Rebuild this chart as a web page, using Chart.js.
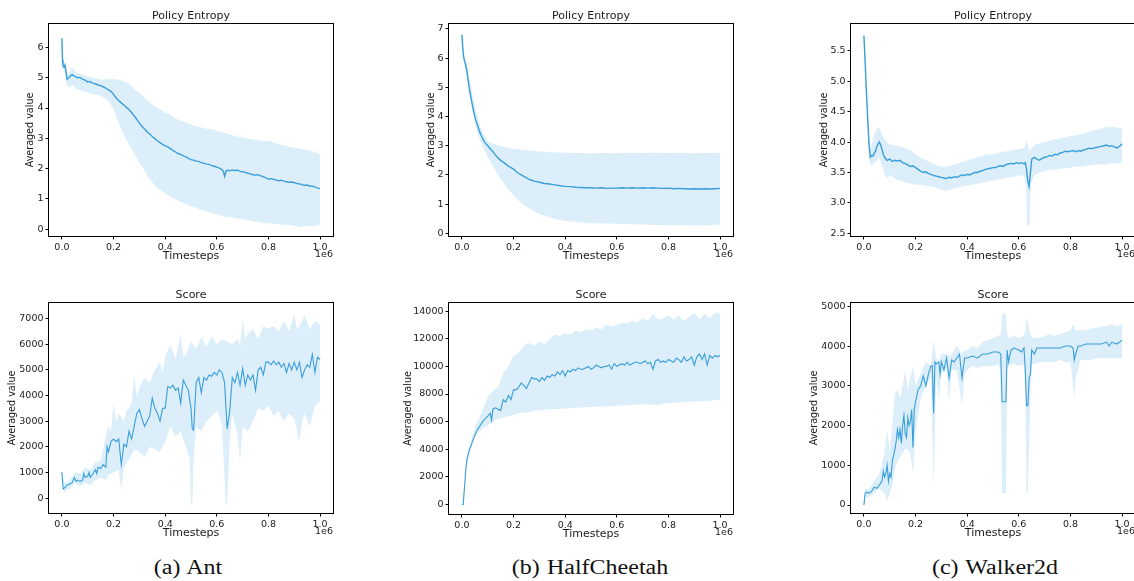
<!DOCTYPE html>
<html>
<head>
<meta charset="utf-8">
<script src="https://cdn.jsdelivr.net/npm/chart.js@4.4.0/dist/chart.umd.min.js"></script>
<style>
html, body { margin: 0; padding: 0; background: #fff; width: 1134px; height: 581px; overflow: hidden; position: relative; }
canvas { position: absolute; }
.caption { position: absolute; top: 555px; width: 300px; text-align: center; font-family: "Liberation Serif", serif; font-size: 20px; line-height: 24px; color: #111; transform: scaleX(1.2); word-spacing: 1px; }
</style>
</head>
<body>
<div class="caption" style="left:38px">(a) Ant</div>
<div class="caption" style="left:440px">(b) HalfCheetah</div>
<div class="caption" style="left:845px">(c) Walker2d</div>
<script>
// timesteps are in units of 1e6, every series is [timestep, value]
var xTicks = [0, 0.2, 0.4, 0.6, 0.8, 1.0];

// ---- Ant : policy entropy
var antEntMean = [[0,6.3],[0.002,5.6],[0.004,5.4],[0.008,5.35],[0.012,5.42],[0.016,5.2],[0.02,4.95],[0.025,4.98],[0.03,5.02],[0.035,5.08],[0.04,5.1],[0.045,5.06],[0.05,5.05],[0.06,5.0],[0.07,5.01],[0.08,4.95],[0.09,4.92],[0.1,4.86],[0.11,4.87],[0.12,4.81],[0.13,4.8],[0.14,4.76],[0.15,4.74],[0.16,4.7],[0.17,4.66],[0.18,4.6],[0.19,4.55],[0.2,4.45],[0.21,4.33],[0.22,4.25],[0.23,4.17],[0.24,4.1],[0.25,4.02],[0.26,3.95],[0.27,3.85],[0.28,3.74],[0.29,3.63],[0.3,3.5],[0.31,3.4],[0.32,3.31],[0.33,3.22],[0.34,3.14],[0.35,3.06],[0.36,2.99],[0.37,2.92],[0.38,2.86],[0.39,2.8],[0.4,2.75],[0.41,2.72],[0.42,2.66],[0.43,2.6],[0.44,2.55],[0.45,2.5],[0.46,2.47],[0.47,2.42],[0.48,2.39],[0.49,2.34],[0.5,2.3],[0.51,2.28],[0.52,2.25],[0.53,2.24],[0.54,2.2],[0.55,2.18],[0.56,2.15],[0.57,2.14],[0.58,2.1],[0.59,2.08],[0.6,2.05],[0.61,2.02],[0.62,1.97],[0.625,1.92],[0.63,1.75],[0.635,1.9],[0.64,1.95],[0.65,1.93],[0.66,1.96],[0.67,1.94],[0.68,1.95],[0.69,1.91],[0.7,1.9],[0.71,1.88],[0.72,1.85],[0.73,1.83],[0.74,1.8],[0.75,1.79],[0.76,1.8],[0.77,1.76],[0.78,1.74],[0.79,1.7],[0.8,1.65],[0.81,1.67],[0.82,1.65],[0.83,1.62],[0.84,1.6],[0.85,1.62],[0.86,1.59],[0.87,1.57],[0.88,1.55],[0.89,1.56],[0.9,1.54],[0.91,1.51],[0.92,1.5],[0.93,1.47],[0.94,1.45],[0.95,1.46],[0.96,1.43],[0.97,1.42],[0.98,1.4],[0.99,1.36],[1.0,1.35]];
var antEntUpper = [[0,6.45],[0.003,5.6],[0.01,5.5],[0.02,5.1],[0.03,5.2],[0.04,5.35],[0.05,5.2],[0.06,5.15],[0.08,5.1],[0.1,5.05],[0.12,5.0],[0.14,4.96],[0.16,4.92],[0.18,4.97],[0.2,4.95],[0.22,4.93],[0.24,4.88],[0.26,4.78],[0.28,4.63],[0.3,4.5],[0.32,4.33],[0.34,4.18],[0.36,4.05],[0.38,3.95],[0.4,3.85],[0.42,3.78],[0.44,3.66],[0.46,3.57],[0.48,3.52],[0.5,3.45],[0.52,3.4],[0.54,3.36],[0.56,3.32],[0.58,3.3],[0.6,3.26],[0.62,3.2],[0.64,3.15],[0.66,3.1],[0.68,3.06],[0.7,3.02],[0.72,3.0],[0.74,2.96],[0.76,2.95],[0.78,2.9],[0.8,2.92],[0.82,2.86],[0.84,2.8],[0.86,2.78],[0.88,2.72],[0.9,2.7],[0.92,2.66],[0.94,2.62],[0.96,2.6],[0.98,2.55],[0.995,2.5],[1.0,2.45]];
var antEntLower = [[0,5.3],[0.003,5.3],[0.01,5.2],[0.02,4.7],[0.03,4.72],[0.04,4.75],[0.06,4.62],[0.08,4.56],[0.1,4.5],[0.12,4.46],[0.14,4.42],[0.16,4.36],[0.18,4.22],[0.19,4.1],[0.2,3.95],[0.21,3.7],[0.22,3.5],[0.24,3.1],[0.26,2.8],[0.28,2.5],[0.3,2.2],[0.32,1.92],[0.34,1.66],[0.36,1.45],[0.38,1.3],[0.4,1.18],[0.42,1.08],[0.44,0.98],[0.46,0.9],[0.48,0.83],[0.5,0.75],[0.52,0.7],[0.54,0.64],[0.56,0.6],[0.58,0.54],[0.6,0.5],[0.62,0.46],[0.63,0.38],[0.64,0.42],[0.66,0.4],[0.68,0.35],[0.7,0.33],[0.72,0.3],[0.74,0.27],[0.76,0.24],[0.78,0.22],[0.8,0.2],[0.82,0.19],[0.84,0.16],[0.86,0.15],[0.88,0.14],[0.9,0.12],[0.92,0.08],[0.94,0.1],[0.96,0.1],[0.98,0.12],[1.0,0.15]];
var antEntTicks = [0, 1, 2, 3, 4, 5, 6];

// ---- HalfCheetah : policy entropy
var cheetahEntMean = [[0,6.8],[0.003,6.4],[0.006,6.08],[0.01,5.9],[0.015,5.75],[0.02,5.5],[0.025,5.2],[0.03,4.9],[0.035,4.65],[0.04,4.42],[0.045,4.2],[0.05,4.0],[0.055,3.85],[0.06,3.72],[0.065,3.58],[0.07,3.45],[0.075,3.35],[0.08,3.25],[0.09,3.1],[0.1,3.0],[0.11,2.9],[0.12,2.8],[0.13,2.68],[0.14,2.58],[0.15,2.5],[0.16,2.44],[0.17,2.37],[0.18,2.3],[0.19,2.25],[0.2,2.2],[0.21,2.12],[0.22,2.05],[0.23,2.0],[0.24,1.95],[0.25,1.9],[0.26,1.85],[0.27,1.82],[0.28,1.79],[0.29,1.77],[0.3,1.75],[0.32,1.71],[0.34,1.69],[0.36,1.66],[0.38,1.63],[0.4,1.61],[0.42,1.6],[0.44,1.58],[0.46,1.57],[0.48,1.56],[0.5,1.56],[0.52,1.55],[0.54,1.56],[0.56,1.54],[0.58,1.55],[0.6,1.55],[0.62,1.56],[0.64,1.55],[0.66,1.56],[0.68,1.55],[0.7,1.56],[0.72,1.55],[0.74,1.56],[0.76,1.55],[0.78,1.54],[0.8,1.55],[0.82,1.53],[0.84,1.54],[0.86,1.53],[0.88,1.52],[0.9,1.53],[0.92,1.52],[0.94,1.53],[0.96,1.52],[0.98,1.53],[1.0,1.54]];
var cheetahEntUpper = [[0,6.85],[0.005,6.4],[0.01,6.1],[0.02,5.8],[0.03,5.3],[0.04,4.8],[0.05,4.35],[0.06,4.0],[0.07,3.7],[0.08,3.45],[0.09,3.3],[0.1,3.15],[0.12,3.07],[0.14,3.02],[0.16,2.97],[0.18,2.93],[0.2,2.9],[0.22,2.88],[0.25,2.85],[0.3,2.8],[0.35,2.78],[0.4,2.76],[0.45,2.75],[0.5,2.74],[0.55,2.75],[0.6,2.74],[0.65,2.76],[0.7,2.75],[0.75,2.76],[0.8,2.75],[0.85,2.76],[0.9,2.74],[0.95,2.75],[1.0,2.76]];
var cheetahEntLower = [[0,6.7],[0.005,6.0],[0.01,5.8],[0.02,5.3],[0.03,4.7],[0.04,4.2],[0.05,3.8],[0.06,3.45],[0.07,3.2],[0.08,2.98],[0.09,2.8],[0.1,2.62],[0.12,2.3],[0.14,2.0],[0.16,1.75],[0.18,1.5],[0.2,1.3],[0.22,1.12],[0.24,0.98],[0.26,0.86],[0.28,0.75],[0.3,0.66],[0.32,0.6],[0.34,0.55],[0.36,0.5],[0.38,0.46],[0.4,0.43],[0.45,0.38],[0.5,0.35],[0.55,0.34],[0.6,0.33],[0.65,0.31],[0.7,0.3],[0.75,0.29],[0.8,0.28],[0.85,0.28],[0.9,0.27],[0.95,0.28],[1.0,0.3]];
var cheetahEntTicks = [0, 1, 2, 3, 4, 5, 6, 7];

// ---- Walker2d : policy entropy
var walkerEntMean = [[0,5.75],[0.005,5.3],[0.01,4.8],[0.015,4.35],[0.02,3.95],[0.025,3.75],[0.03,3.78],[0.035,3.77],[0.04,3.82],[0.045,3.85],[0.05,3.92],[0.055,3.97],[0.06,4.0],[0.065,3.95],[0.07,3.88],[0.075,3.8],[0.08,3.75],[0.09,3.7],[0.1,3.72],[0.11,3.68],[0.12,3.7],[0.13,3.69],[0.14,3.7],[0.15,3.66],[0.16,3.65],[0.17,3.62],[0.18,3.6],[0.19,3.61],[0.2,3.58],[0.21,3.55],[0.22,3.52],[0.23,3.5],[0.24,3.51],[0.25,3.48],[0.26,3.47],[0.27,3.45],[0.28,3.44],[0.29,3.43],[0.3,3.42],[0.31,3.41],[0.32,3.4],[0.33,3.42],[0.34,3.41],[0.35,3.43],[0.36,3.42],[0.37,3.44],[0.38,3.46],[0.39,3.45],[0.4,3.47],[0.41,3.46],[0.42,3.48],[0.43,3.5],[0.44,3.5],[0.45,3.52],[0.46,3.53],[0.47,3.55],[0.48,3.56],[0.49,3.57],[0.5,3.58],[0.51,3.58],[0.52,3.6],[0.53,3.61],[0.54,3.6],[0.55,3.63],[0.56,3.64],[0.57,3.65],[0.58,3.64],[0.59,3.66],[0.6,3.65],[0.61,3.66],[0.62,3.64],[0.625,3.66],[0.63,3.55],[0.635,3.35],[0.64,3.27],[0.645,3.5],[0.65,3.72],[0.66,3.75],[0.67,3.72],[0.68,3.7],[0.69,3.73],[0.7,3.75],[0.71,3.76],[0.72,3.78],[0.73,3.77],[0.74,3.8],[0.75,3.79],[0.76,3.82],[0.77,3.83],[0.78,3.85],[0.79,3.84],[0.8,3.85],[0.81,3.86],[0.82,3.84],[0.83,3.86],[0.84,3.85],[0.85,3.87],[0.86,3.88],[0.87,3.9],[0.88,3.89],[0.89,3.9],[0.9,3.91],[0.91,3.92],[0.92,3.93],[0.93,3.94],[0.94,3.95],[0.95,3.93],[0.96,3.94],[0.97,3.92],[0.98,3.9],[0.99,3.93],[1.0,3.97]];
var walkerEntUpper = [[0,5.78],[0.005,5.4],[0.01,4.9],[0.015,4.5],[0.02,4.1],[0.025,3.9],[0.03,3.95],[0.04,4.12],[0.05,4.22],[0.06,4.25],[0.07,4.12],[0.08,4.05],[0.09,4.0],[0.1,3.96],[0.12,3.95],[0.14,3.93],[0.16,3.9],[0.18,3.86],[0.2,3.8],[0.22,3.74],[0.24,3.7],[0.26,3.66],[0.28,3.62],[0.3,3.6],[0.32,3.6],[0.34,3.62],[0.36,3.64],[0.38,3.67],[0.4,3.7],[0.42,3.72],[0.44,3.75],[0.46,3.78],[0.48,3.8],[0.5,3.8],[0.52,3.82],[0.54,3.84],[0.56,3.85],[0.58,3.87],[0.6,3.88],[0.62,3.9],[0.63,4.02],[0.64,3.85],[0.65,3.9],[0.66,3.95],[0.68,3.98],[0.7,4.0],[0.72,4.02],[0.74,4.05],[0.76,4.06],[0.78,4.08],[0.8,4.1],[0.82,4.11],[0.84,4.13],[0.86,4.15],[0.88,4.18],[0.9,4.2],[0.92,4.22],[0.94,4.25],[0.96,4.25],[0.98,4.24],[1.0,4.22]];
var walkerEntLower = [[0,5.7],[0.005,5.2],[0.01,4.7],[0.015,4.2],[0.02,3.75],[0.025,3.62],[0.03,3.62],[0.04,3.65],[0.05,3.7],[0.06,3.75],[0.07,3.62],[0.08,3.46],[0.09,3.4],[0.1,3.45],[0.12,3.4],[0.14,3.36],[0.16,3.34],[0.18,3.32],[0.2,3.3],[0.22,3.3],[0.24,3.28],[0.26,3.27],[0.28,3.25],[0.3,3.22],[0.32,3.2],[0.34,3.23],[0.36,3.25],[0.38,3.27],[0.4,3.28],[0.42,3.3],[0.44,3.32],[0.46,3.33],[0.48,3.35],[0.5,3.37],[0.52,3.38],[0.54,3.4],[0.56,3.42],[0.58,3.43],[0.6,3.45],[0.62,3.45],[0.628,3.3],[0.632,2.65],[0.642,2.62],[0.646,3.3],[0.66,3.45],[0.68,3.5],[0.7,3.52],[0.72,3.55],[0.74,3.55],[0.76,3.56],[0.78,3.57],[0.8,3.58],[0.82,3.6],[0.84,3.6],[0.86,3.61],[0.88,3.62],[0.9,3.63],[0.92,3.63],[0.94,3.64],[0.96,3.65],[0.98,3.65],[1.0,3.66]];
var walkerEntTicks = [2.5, 3.0, 3.5, 4.0, 4.5, 5.0, 5.5];

// ---- Ant : score
var antScoreMean = [[0,1000],[0.005,350],[0.01,400],[0.02,500],[0.03,550],[0.04,600],[0.048,800],[0.055,650],[0.06,700],[0.07,650],[0.08,700],[0.085,950],[0.09,800],[0.1,850],[0.105,1000],[0.11,800],[0.12,950],[0.13,1100],[0.135,950],[0.14,1200],[0.15,1150],[0.16,1300],[0.17,1200],[0.175,2000],[0.18,1800],[0.19,2200],[0.2,2300],[0.21,2200],[0.22,2300],[0.23,1300],[0.24,2100],[0.25,2000],[0.26,2600],[0.27,2300],[0.28,2800],[0.29,3300],[0.3,3450],[0.31,3100],[0.32,2800],[0.33,3000],[0.34,3200],[0.35,3900],[0.36,3500],[0.37,3300],[0.38,3000],[0.39,3500],[0.4,3500],[0.41,4350],[0.42,4300],[0.43,4400],[0.44,4200],[0.45,4300],[0.46,3700],[0.47,4600],[0.48,4400],[0.49,4200],[0.5,3500],[0.505,2700],[0.51,2650],[0.52,4500],[0.53,4700],[0.54,4100],[0.55,4700],[0.56,4600],[0.57,4800],[0.58,4750],[0.59,4900],[0.6,4800],[0.61,5000],[0.62,4900],[0.625,4700],[0.63,4500],[0.64,2700],[0.65,3400],[0.66,4700],[0.67,4500],[0.68,4900],[0.69,4400],[0.7,5050],[0.71,4400],[0.72,4800],[0.73,4600],[0.74,4800],[0.75,4200],[0.76,5000],[0.77,5100],[0.78,4800],[0.79,5300],[0.8,5300],[0.81,5200],[0.82,5350],[0.83,5200],[0.84,5300],[0.85,5100],[0.86,5250],[0.87,4900],[0.88,5250],[0.89,5000],[0.9,5300],[0.91,5000],[0.92,5300],[0.93,4700],[0.94,5000],[0.95,5200],[0.96,5100],[0.97,5600],[0.98,4900],[0.99,5500],[1.0,5400]];
var antScoreUpper = [[0,1050],[0.01,550],[0.02,650],[0.03,700],[0.05,1000],[0.07,950],[0.09,1200],[0.11,1100],[0.13,1400],[0.15,1450],[0.17,2400],[0.18,2800],[0.19,2600],[0.2,3700],[0.21,3000],[0.22,3300],[0.24,3000],[0.25,3400],[0.26,3500],[0.27,3700],[0.28,4800],[0.29,4000],[0.3,4300],[0.32,4700],[0.34,4500],[0.36,5000],[0.38,5300],[0.39,4900],[0.4,5500],[0.42,6000],[0.44,5400],[0.46,6400],[0.47,5500],[0.48,5600],[0.5,6100],[0.52,5800],[0.54,6300],[0.56,5900],[0.58,6300],[0.6,6000],[0.62,6200],[0.64,6100],[0.66,6000],[0.68,6200],[0.69,5900],[0.7,7000],[0.71,6200],[0.72,6400],[0.74,6600],[0.76,6200],[0.78,6700],[0.8,6600],[0.82,6700],[0.84,6500],[0.86,6900],[0.88,6500],[0.9,7200],[0.91,6600],[0.92,6700],[0.94,7100],[0.96,6600],[0.98,6900],[1.0,6800]];
var antScoreLower = [[0,950],[0.01,200],[0.02,300],[0.03,350],[0.05,600],[0.07,450],[0.09,600],[0.11,500],[0.13,700],[0.15,800],[0.17,700],[0.18,900],[0.2,1000],[0.22,1100],[0.23,300],[0.24,1200],[0.26,1500],[0.28,1900],[0.3,1800],[0.32,1600],[0.34,2000],[0.36,1900],[0.38,1800],[0.4,2200],[0.42,2800],[0.44,2400],[0.46,2600],[0.48,2000],[0.495,1500],[0.5,-250],[0.505,-250],[0.51,1500],[0.52,2800],[0.54,2600],[0.56,3000],[0.58,3200],[0.6,3400],[0.62,2900],[0.635,-250],[0.64,-250],[0.65,2200],[0.66,3300],[0.68,2500],[0.69,1400],[0.7,2800],[0.72,2600],[0.74,3000],[0.76,3500],[0.78,3400],[0.8,3600],[0.82,3200],[0.84,3400],[0.86,3000],[0.88,3300],[0.9,3100],[0.92,2200],[0.93,3000],[0.94,3300],[0.96,2800],[0.98,3600],[1.0,3800]];
var antScoreTicks = [0, 1000, 2000, 3000, 4000, 5000, 6000, 7000];

// ---- HalfCheetah : score
var cheetahScoreMean = [[0,0],[0.005,0],[0.01,1200],[0.015,2500],[0.02,3300],[0.03,4000],[0.04,4500],[0.05,5000],[0.06,5400],[0.07,5700],[0.08,6000],[0.09,6200],[0.1,6400],[0.11,6600],[0.115,6100],[0.12,6900],[0.13,7000],[0.14,6900],[0.15,6800],[0.16,7600],[0.17,7400],[0.18,7900],[0.19,7600],[0.2,8300],[0.21,8300],[0.22,8500],[0.23,8800],[0.24,8600],[0.25,8400],[0.26,8800],[0.27,9200],[0.28,9100],[0.29,9100],[0.3,8900],[0.31,9200],[0.32,9000],[0.33,9300],[0.34,9200],[0.35,9400],[0.36,9300],[0.37,9600],[0.38,9400],[0.39,9700],[0.4,9300],[0.41,9700],[0.42,9600],[0.43,9800],[0.44,9700],[0.45,9900],[0.46,9800],[0.47,9800],[0.48,9900],[0.49,10000],[0.5,9800],[0.51,9900],[0.52,10100],[0.53,10000],[0.54,9900],[0.55,10000],[0.56,10000],[0.57,10100],[0.58,9800],[0.59,10200],[0.6,10000],[0.61,10100],[0.62,10200],[0.63,10100],[0.64,10300],[0.65,10100],[0.66,10200],[0.67,10300],[0.68,10300],[0.69,10200],[0.7,10300],[0.71,10400],[0.72,10200],[0.73,10300],[0.74,9800],[0.75,10400],[0.76,10500],[0.77,10300],[0.78,10400],[0.79,10300],[0.8,10500],[0.81,10400],[0.82,10300],[0.83,10600],[0.84,10500],[0.85,10300],[0.86,10700],[0.87,10400],[0.88,10500],[0.89,10700],[0.9,10100],[0.91,10700],[0.92,10900],[0.93,10500],[0.94,10900],[0.95,10100],[0.96,10800],[0.97,10600],[0.98,10800],[0.99,10700],[1.0,10800]];
var cheetahScoreUpper = [[0,0],[0.01,1500],[0.02,3600],[0.03,4200],[0.04,5000],[0.05,5500],[0.06,6000],[0.08,6800],[0.1,7800],[0.12,8200],[0.14,8500],[0.16,9500],[0.18,10000],[0.2,10800],[0.22,11000],[0.24,11500],[0.26,11700],[0.28,11500],[0.3,11800],[0.32,11600],[0.34,12000],[0.36,12300],[0.38,12200],[0.4,12400],[0.42,12300],[0.44,12600],[0.46,12500],[0.48,12700],[0.5,12600],[0.52,12800],[0.54,12700],[0.56,13000],[0.58,12900],[0.6,13000],[0.62,13200],[0.64,13100],[0.66,13300],[0.68,13200],[0.7,13500],[0.72,13300],[0.74,13800],[0.76,13400],[0.78,13500],[0.8,13700],[0.82,13400],[0.84,13700],[0.86,13300],[0.88,13600],[0.9,13900],[0.92,13400],[0.94,13800],[0.96,13500],[0.98,13900],[1.0,13900]];
var cheetahScoreLower = [[0,0],[0.01,1000],[0.02,3000],[0.03,3800],[0.04,4400],[0.05,4900],[0.06,5200],[0.08,5500],[0.1,5700],[0.12,6000],[0.14,6200],[0.16,6300],[0.18,6400],[0.2,6500],[0.22,6600],[0.24,6650],[0.26,6700],[0.28,6800],[0.3,6800],[0.35,6900],[0.4,6950],[0.45,7000],[0.5,7050],[0.55,7100],[0.6,7150],[0.65,7200],[0.7,7250],[0.75,7200],[0.8,7350],[0.85,7400],[0.9,7450],[0.95,7500],[1.0,7600]];
var cheetahScoreTicks = [0, 2000, 4000, 6000, 8000, 10000, 12000, 14000];

// ---- Walker2d : score
var walkerScoreMean = [[0,0],[0.005,300],[0.01,320],[0.02,300],[0.03,350],[0.04,450],[0.05,420],[0.06,500],[0.07,600],[0.075,850],[0.08,700],[0.085,800],[0.09,1000],[0.095,600],[0.1,800],[0.105,700],[0.11,1100],[0.12,1400],[0.125,1600],[0.13,1900],[0.135,1700],[0.14,1900],[0.145,1550],[0.15,2000],[0.155,2250],[0.16,1800],[0.165,1700],[0.17,2200],[0.175,2000],[0.18,2100],[0.185,2400],[0.19,1450],[0.195,2400],[0.2,2600],[0.21,2900],[0.22,3000],[0.23,3250],[0.24,3000],[0.25,3300],[0.26,3500],[0.265,3500],[0.27,2300],[0.275,3600],[0.28,3550],[0.29,3600],[0.295,3300],[0.3,3600],[0.31,3400],[0.32,3700],[0.33,3200],[0.34,3650],[0.35,3600],[0.36,3700],[0.37,3800],[0.38,3200],[0.39,3700],[0.4,3700],[0.42,3750],[0.44,3700],[0.46,3800],[0.48,3800],[0.5,3850],[0.52,3850],[0.53,3800],[0.535,2600],[0.54,2600],[0.55,2600],[0.555,3900],[0.56,3600],[0.57,3900],[0.58,3950],[0.6,3900],[0.61,3850],[0.62,3950],[0.625,3400],[0.63,2500],[0.635,2500],[0.64,3200],[0.645,3300],[0.65,3900],[0.66,3800],[0.67,3950],[0.68,3950],[0.7,3950],[0.72,3950],[0.74,3950],[0.76,3950],[0.78,4000],[0.8,4000],[0.81,3950],[0.815,3650],[0.82,3800],[0.83,4000],[0.84,4000],[0.86,4050],[0.88,4050],[0.9,4050],[0.92,4050],[0.94,4100],[0.95,4000],[0.96,4100],[0.98,4050],[1.0,4150]];
var walkerScoreUpper = [[0,0],[0.005,400],[0.02,400],[0.04,600],[0.06,800],[0.08,1300],[0.09,1900],[0.1,1300],[0.11,2000],[0.12,2800],[0.13,2900],[0.14,2700],[0.15,3000],[0.16,3400],[0.17,2900],[0.18,3200],[0.19,3500],[0.2,3000],[0.22,3300],[0.24,3600],[0.26,3500],[0.27,4150],[0.28,3700],[0.29,3600],[0.3,3800],[0.32,3800],[0.33,3750],[0.34,3800],[0.36,4000],[0.38,3800],[0.39,3900],[0.4,3900],[0.42,4000],[0.44,3950],[0.46,4100],[0.48,4150],[0.5,4200],[0.52,4250],[0.53,4300],[0.535,4700],[0.54,4850],[0.55,4800],[0.555,4300],[0.56,4200],[0.58,4250],[0.6,4200],[0.62,4250],[0.625,4400],[0.63,4750],[0.635,4600],[0.645,4300],[0.65,4200],[0.66,4200],[0.68,4200],[0.7,4250],[0.72,4300],[0.74,4250],[0.76,4300],[0.78,4350],[0.8,4400],[0.81,4550],[0.815,4450],[0.82,4400],[0.84,4400],[0.86,4400],[0.88,4450],[0.9,4450],[0.92,4500],[0.94,4500],[0.96,4550],[0.98,4500],[1.0,4550]];
var walkerScoreLower = [[0,0],[0.005,200],[0.02,200],[0.04,300],[0.06,400],[0.08,300],[0.09,100],[0.1,300],[0.11,500],[0.12,900],[0.13,1100],[0.14,1200],[0.15,1300],[0.16,1400],[0.17,1400],[0.18,1300],[0.19,800],[0.2,1800],[0.22,2700],[0.24,3000],[0.26,3200],[0.27,450],[0.28,3300],[0.29,2700],[0.3,3300],[0.32,3400],[0.33,2600],[0.34,3400],[0.36,3400],[0.38,2500],[0.39,3300],[0.4,3400],[0.42,3500],[0.44,3450],[0.46,3500],[0.48,3500],[0.5,3500],[0.52,3550],[0.53,3400],[0.535,300],[0.55,300],[0.555,3400],[0.56,3500],[0.58,3550],[0.6,3500],[0.62,3550],[0.625,3000],[0.63,300],[0.635,300],[0.645,2800],[0.65,3550],[0.66,3550],[0.68,3600],[0.7,3600],[0.72,3600],[0.74,3600],[0.76,3650],[0.78,3600],[0.8,3600],[0.81,3000],[0.815,2700],[0.82,3200],[0.84,3650],[0.86,3650],[0.88,3650],[0.9,3700],[0.92,3700],[0.94,3700],[0.96,3700],[0.98,3700],[1.0,3700]];
var walkerScoreTicks = [0, 1000, 2000, 3000, 4000, 5000];

var FONT = '"DejaVu Sans", sans-serif';
var TEXT = '#1a1a1a';
var LINE = '#3a9edb';
var BAND = 'rgba(58,158,219,0.18)';
var X_H = 27, PAD_T = 18, PAD_R = 4;

var panels = [
  { title: 'Policy Entropy', mean: antEntMean, upper: antEntUpper, lower: antEntLower, yTicks: antEntTicks, dec: 0, yMin: -0.22, yMax: 6.77, left: 49, top: 24, right: 333, bottom: 236, yW: 24, lw: 1.4 },
  { title: 'Policy Entropy', mean: cheetahEntMean, upper: cheetahEntUpper, lower: cheetahEntLower, yTicks: cheetahEntTicks, dec: 0, yMin: -0.09, yMax: 7.17, left: 449, top: 24, right: 733, bottom: 236, yW: 23, lw: 1.4 },
  { title: 'Policy Entropy', mean: walkerEntMean, upper: walkerEntUpper, lower: walkerEntLower, yTicks: walkerEntTicks, dec: 1, yMin: 2.456, yMax: 5.94, left: 851, top: 24, right: 1135, bottom: 236, yW: 32, lw: 1.4 },
  { title: 'Score', mean: antScoreMean, upper: antScoreUpper, lower: antScoreLower, yTicks: antScoreTicks, dec: 0, yMin: -583, yMax: 7607, left: 49, top: 303, right: 333, bottom: 513, yW: 42, lw: 1.1 },
  { title: 'Score', mean: cheetahScoreMean, upper: cheetahScoreUpper, lower: cheetahScoreLower, yTicks: cheetahScoreTicks, dec: 0, yMin: -700, yMax: 14600, left: 449, top: 303, right: 733, bottom: 514, yW: 46, lw: 1.1 },
  { title: 'Score', mean: walkerScoreMean, upper: walkerScoreUpper, lower: walkerScoreLower, yTicks: walkerScoreTicks, dec: 0, yMin: -201, yMax: 5083, left: 851, top: 303, right: 1135, bottom: 513, yW: 42, lw: 1.1 }
];

function toPoints(pairs) {
  return pairs.map(function(p) { return { x: p[0], y: p[1] }; });
}

// box around the plot area, panel title above it and the 1e6 offset text
function framePlugin(title) {
  return {
    id: 'frame',
    afterDraw: function(chart) {
      var a = chart.chartArea, ctx = chart.ctx;
      ctx.save();
      ctx.strokeStyle = '#000';
      ctx.lineWidth = 1;
      ctx.strokeRect(a.left - 0.5, a.top - 0.5, a.right - a.left + 1, a.bottom - a.top + 1);
      ctx.fillStyle = TEXT;
      ctx.textBaseline = 'middle';
      ctx.textAlign = 'center';
      ctx.font = '11px ' + FONT;
      ctx.fillText(title, (a.left + a.right) / 2, a.top - 8);
      ctx.textAlign = 'right';
      ctx.font = '9.5px ' + FONT;
      ctx.fillText('1e6', a.right, a.bottom + 19);
      ctx.restore();
    }
  };
}

function drawPanel(p) {
  var w = p.right - p.left + p.yW + PAD_R;
  var h = p.bottom - p.top + PAD_T + X_H;
  var canvas = document.createElement('canvas');
  canvas.width = w;
  canvas.height = h;
  canvas.style.left = (p.left - p.yW) + 'px';
  canvas.style.top = (p.top - PAD_T) + 'px';
  canvas.style.width = w + 'px';
  canvas.style.height = h + 'px';
  document.body.appendChild(canvas);

  var tickGrid = { display: true, drawOnChartArea: false, drawTicks: true, tickLength: 3.5, tickColor: '#000', tickWidth: 1 };

  new Chart(canvas.getContext('2d'), {
    type: 'line',
    data: {
      datasets: [
        { data: toPoints(p.lower), borderWidth: 0, borderColor: 'transparent', pointRadius: 0, fill: false },
        { data: toPoints(p.upper), borderWidth: 0, borderColor: 'transparent', pointRadius: 0, fill: '-1', backgroundColor: BAND },
        { data: toPoints(p.mean), borderWidth: p.lw, borderColor: LINE, pointRadius: 0, fill: false }
      ]
    },
    options: {
      responsive: false,
      animation: false,
      devicePixelRatio: 1,
      events: [],
      layout: { padding: { top: PAD_T, right: PAD_R, left: 0, bottom: 0 } },
      plugins: { legend: { display: false }, tooltip: { enabled: false } },
      scales: {
        x: {
          type: 'linear', min: -0.05, max: 1.05,
          afterBuildTicks: function(s) { s.ticks = xTicks.map(function(v) { return { value: v }; }); },
          afterFit: function(s) { s.height = X_H; },
          ticks: { autoSkip: false, maxRotation: 0, padding: 2, color: TEXT, font: { family: FONT, size: 9.5 },
                   callback: function(v) { return v.toFixed(1); } },
          grid: tickGrid,
          border: { display: false },
          title: { display: true, text: 'Timesteps', color: TEXT, font: { family: FONT, size: 11 }, padding: 0 }
        },
        y: {
          type: 'linear', min: p.yMin, max: p.yMax,
          afterBuildTicks: function(s) { s.ticks = p.yTicks.map(function(v) { return { value: v }; }); },
          afterFit: function(s) { s.width = p.yW; },
          ticks: { autoSkip: false, padding: 2, color: TEXT, font: { family: FONT, size: 9.5 },
                   callback: function(v) { return v.toFixed(p.dec); } },
          grid: tickGrid,
          border: { display: false },
          title: { display: true, text: 'Averaged value', color: TEXT, font: { family: FONT, size: 9.6 }, padding: 0 }
        }
      }
    },
    plugins: [framePlugin(p.title)]
  });
}

panels.forEach(drawPanel);
</script>
</body>
</html>
